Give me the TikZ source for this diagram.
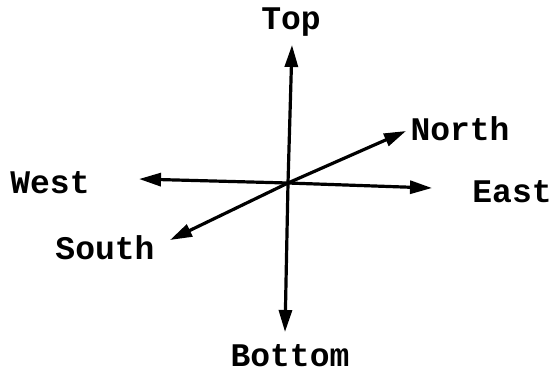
\documentclass[tikz,border=0pt]{standalone}
\usepackage{fontspec}
\setmonofont{Liberation Mono}
\usetikzlibrary{arrows.meta}

\begin{document}
\begin{tikzpicture}[x=1pt, y=-1pt,
    axis/.style={-{Triangle[length=22pt, width=13pt]}, line width=3.2pt},
    dir/.style={font=\ttfamily\bfseries\fontsize{33}{36}\selectfont, inner sep=0pt}]
    \useasboundingbox (0,0) rectangle (553,373);
    % Centre and arrow ends
    \coordinate (o) at (288,183);
    \coordinate (topend) at (292,45);
    \coordinate (bottomend) at (285,332);
    \coordinate (westend) at (139,179);
    \coordinate (eastend) at (432,188);
    \coordinate (northend) at (406,131);
    \coordinate (southend) at (170,240);

    % Labels
    \node[dir] (top) at (291,22) {Top};
    \node[dir] (bottom) at (290,356) {Bottom};
    \node[dir] (west) at (50,183) {West};
    \node[dir] (east) at (512,192) {East};
    \node[dir] (north) at (460,129) {North};
    \node[dir] (south) at (105,248) {South};

    % Arrows
    \draw[axis] (o) -- (topend);
    \draw[axis] (o) -- (bottomend);
    \draw[axis] (o) -- (westend);
    \draw[axis] (o) -- (eastend);
    \draw[axis] (o) -- (northend);
    \draw[axis] (o) -- (southend);
\end{tikzpicture}
\end{document}
